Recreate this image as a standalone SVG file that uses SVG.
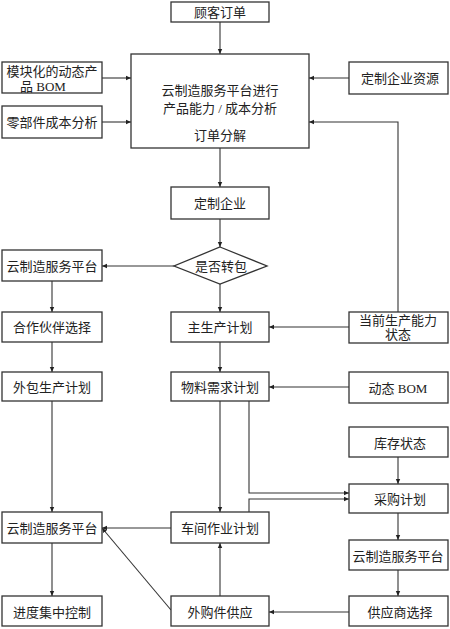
<svg xmlns="http://www.w3.org/2000/svg" width="450" height="629" viewBox="0 0 450 629">
<defs>
<marker id="ah" markerWidth="6" markerHeight="6" refX="5" refY="3" orient="auto" markerUnits="userSpaceOnUse">
<path d="M0,0.8 L5,3 L0,5.2 Z" fill="#222"/>
</marker>
<style>
rect,polygon{fill:#fff;stroke:#333;stroke-width:1.3}
text{font-family:"Liberation Serif","Noto Sans CJK SC",serif;font-size:13px;fill:#222;text-anchor:middle;dominant-baseline:central}
#connectors path{fill:none;stroke:#333;stroke-width:1.1;marker-end:url(#ah)}
</style>
</defs>
<rect x="0" y="0" width="450" height="629" style="fill:#fff;stroke:none"/>
<g id="connectors">
<path d="M220,22 V54"/>
<path d="M102,78 H131"/>
<path d="M102,122 H131"/>
<path d="M349,78 H309"/>
<path d="M398,312 V122 H309"/>
<path d="M220,148 V187"/>
<path d="M220,219 V247"/>
<path d="M174,266 H102"/>
<path d="M220,284 V312"/>
<path d="M52,281 V312"/>
<path d="M52,342 V372"/>
<path d="M349,327 H269"/>
<path d="M220,342 V372"/>
<path d="M349,387 H269"/>
<path d="M52,401 V512"/>
<path d="M220,401 V512"/>
<path d="M249,401 V493 H349"/>
<path d="M249,512 V499 H349"/>
<path d="M398,457 V484"/>
<path d="M398,513 V540"/>
<path d="M398,570 V596"/>
<path d="M171,528 H102"/>
<path d="M52,543 V596"/>
<path d="M349,612 H269"/>
<path d="M220,596 V543"/>
<path d="M171,610 L102,528"/>
</g>
<g id="n_order"><rect x="171" y="2" width="98" height="20"/><text x="220" y="12">顾客订单</text></g>
<g id="n_platform_main"><rect x="131" y="54" width="178" height="94"/><text x="220" y="90">云制造服务平台进行</text><text x="220" y="108">产品能力 / 成本分析</text><text x="220" y="135">订单分解</text></g>
<g id="n_bom_mod"><rect x="2" y="62" width="100" height="31"/><text x="52" y="71">模块化的动态产</text><text x="43" y="86">品 BOM</text></g>
<g id="n_parts_cost"><rect x="2" y="106" width="100" height="32"/><text x="52" y="122">零部件成本分析</text></g>
<g id="n_res"><rect x="349" y="62" width="99" height="32"/><text x="400" y="78">定制企业资源</text></g>
<g id="n_ent"><rect x="171" y="187" width="98" height="32"/><text x="220" y="203">定制企业</text></g>
<g id="n_dec"><polygon points="220,247 267,266 220,284 174,266"/><text x="221" y="266">是否转包</text></g>
<g id="n_cloud1"><rect x="2" y="250" width="100" height="31"/><text x="52" y="266">云制造服务平台</text></g>
<g id="n_partner"><rect x="2" y="312" width="100" height="30"/><text x="52" y="327">合作伙伴选择</text></g>
<g id="n_mps"><rect x="171" y="312" width="98" height="30"/><text x="220" y="327">主生产计划</text></g>
<g id="n_cap"><rect x="349" y="312" width="99" height="31"/><text x="398" y="320">当前生产能力</text><text x="398" y="334">状态</text></g>
<g id="n_outplan"><rect x="2" y="372" width="100" height="29"/><text x="52" y="387">外包生产计划</text></g>
<g id="n_mrp"><rect x="171" y="372" width="98" height="29"/><text x="220" y="387">物料需求计划</text></g>
<g id="n_dbom"><rect x="349" y="372" width="99" height="31"/><text x="398" y="388">动态 BOM</text></g>
<g id="n_stock"><rect x="349" y="427" width="99" height="30"/><text x="400" y="443">库存状态</text></g>
<g id="n_purch"><rect x="349" y="484" width="99" height="29"/><text x="400" y="499">采购计划</text></g>
<g id="n_cloud2"><rect x="2" y="512" width="100" height="31"/><text x="52" y="528">云制造服务平台</text></g>
<g id="n_shop"><rect x="171" y="512" width="98" height="31"/><text x="220" y="528">车间作业计划</text></g>
<g id="n_cloud3"><rect x="349" y="540" width="99" height="30"/><text x="398" y="556">云制造服务平台</text></g>
<g id="n_ctrl"><rect x="2" y="596" width="100" height="30"/><text x="52" y="612">进度集中控制</text></g>
<g id="n_supply"><rect x="171" y="596" width="98" height="30"/><text x="220" y="612">外购件供应</text></g>
<g id="n_supsel"><rect x="349" y="596" width="99" height="30"/><text x="400" y="612">供应商选择</text></g>
</svg>
